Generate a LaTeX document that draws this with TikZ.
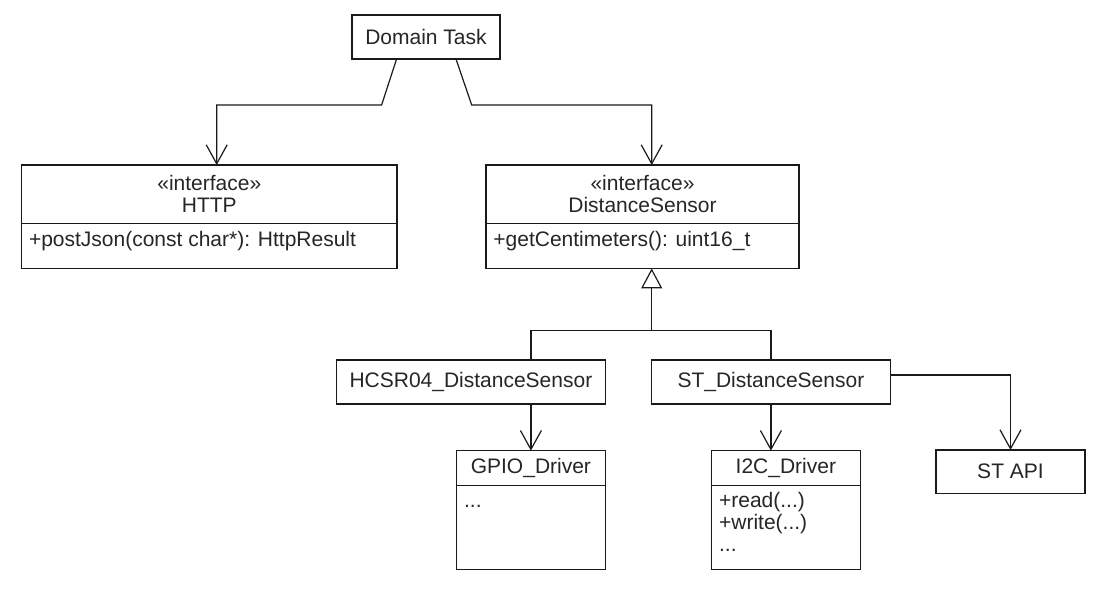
\documentclass[tikz,border=0pt]{standalone}
\usepackage{fontspec}
\setmainfont{Liberation Sans}
\usepackage{tikz}
\usetikzlibrary{arrows.meta,calc,positioning}
\definecolor{umlLine}{HTML}{1A1A1A}
\definecolor{umlText}{HTML}{262626}
\tikzset{
  cls/.style={draw=umlLine, fill=white, line width=0.6pt, align=center, text=umlText,
        font=\fontsize{10.5}{11}\selectfont, inner sep=2pt, outer sep=0pt},
  hdr/.style n args={2}{cls, minimum width=#1, minimum height=#2},
  ops/.style={font=\fontsize{10.5}{11}\selectfont, text=umlText, align=left,
        inner xsep=3.5pt, inner ysep=3.5pt, anchor=north west},
  dep/.style={-{Straight Barb[length=9.5pt,width=10.5pt]}, draw=umlLine, line width=0.6pt},
  gen/.style={-{Triangle[open,length=10pt,width=10.5pt,fill=white]}, draw=umlLine, line width=0.6pt},
  lnk/.style={draw=umlLine, line width=0.6pt},
}
\begin{document}
\begin{tikzpicture}[x=0.5pt,y=-0.5pt]
  \useasboundingbox (0,0) rectangle (1105,589);
  % --- task ---
  \node[hdr={74pt}{22pt}] (dom) at (426,37) {Domain Task};
  % --- interfaces ---
  \node[hdr={187.7pt}{29.2pt}] (http) at (209.3,194.2) {«interface»\\HTTP};
  \node[hdr={187.7pt}{22.5pt}, anchor=north] (httpB) at (http.south) {};
  \node[ops] at (httpB.north west) {+postJson(const char*): HttpResult};
  \node[hdr={156.5pt}{29.2pt}] (ds) at (642.5,194.2) {«interface»\\DistanceSensor};
  \node[hdr={156.5pt}{22.5pt}, anchor=north] (dsB) at (ds.south) {};
  \node[ops] at (dsB.north west) {+getCentimeters(): uint16\_t};
  % --- implementations ---
  \node[hdr={134.8pt}{22pt}] (hc) at (470.9,382) {HCSR04\_DistanceSensor};
  \node[hdr={119.2pt}{22pt}] (st) at (770.9,382) {ST\_DistanceSensor};
  % --- drivers ---
  \node[hdr={74.2pt}{17.2pt}] (gpio) at (530.9,467.9) {GPIO\_Driver};
  \node[hdr={74.2pt}{42pt}, anchor=north] (gpioB) at (gpio.south) {};
  \node[ops] at (gpioB.north west) {\vphantom{(}...};
  \node[hdr={74.2pt}{17.2pt}] (i2c) at (785.9,467.9) {I2C\_Driver};
  \node[hdr={74.2pt}{42pt}, anchor=north] (i2cB) at (i2c.south) {};
  \node[ops] at (i2cB.north west) {+read(...)\\+write(...)\\...};
  \node[hdr={74.5pt}{21.7pt}] (stapi) at (1010.5,471.7) {ST API};
  % uses
  \draw[dep] ([xshift=-14.7pt]dom.south) -- ++(-7.5pt,-23pt) -| ([xshift=3.7pt]http.north);
  \draw[dep] ([xshift=15pt]dom.south) -- ++(7.85pt,-23pt) -| ([xshift=4.6pt]ds.north);
  % realization
  \coordinate (genJ) at ([xshift=4.6pt,yshift=-30.9pt]dsB.south);
  \draw[gen] (genJ) -- (genJ |- dsB.south);
  \draw[lnk] (hc.north -| gpio.north) |- (genJ) -| (st.north);
  % drivers
  \draw[dep] (gpio.north |- hc.south) -- (gpio.north);
  \draw[dep] (st.south) -- (st.south |- i2c.north);
  \draw[dep] ([yshift=3.5pt]st.east) -| (stapi.north);
\end{tikzpicture}
\end{document}
